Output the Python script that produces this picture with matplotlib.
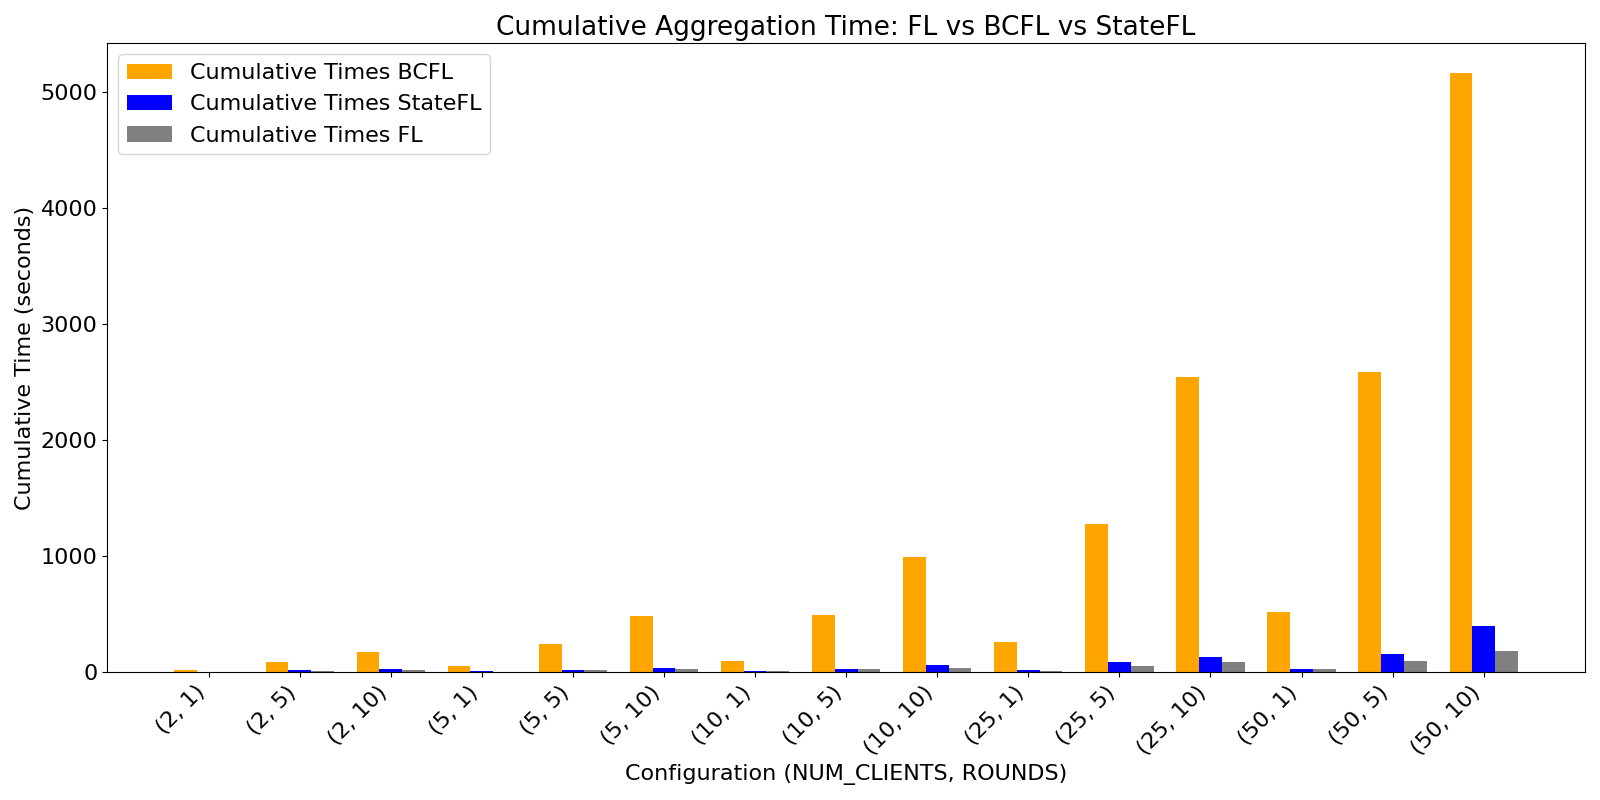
import numpy as np
import matplotlib
matplotlib.use("Agg")
import matplotlib.pyplot as plt

configs = ["(2, 1)", "(2, 5)", "(2, 10)", "(5, 1)", "(5, 5)", "(5, 10)",
           "(10, 1)", "(10, 5)", "(10, 10)", "(25, 1)", "(25, 5)", "(25, 10)",
           "(50, 1)", "(50, 5)", "(50, 10)"]
bcfl = [18, 91, 173, 55, 245, 482, 100, 491, 991, 264, 1273, 2545, 518, 2582, 5160]
statefl = [3, 15, 25, 8, 15, 35, 8, 25, 65, 18, 90, 135, 30, 155, 400]
fl = [1, 8, 15, 4, 15, 28, 6, 28, 40, 10, 50, 90, 28, 100, 180]

x = np.arange(len(configs))
w = 0.25

fig, ax = plt.subplots(figsize=(16, 8), dpi=100)
ax.bar(x - w, bcfl, w, color="orange", label="Cumulative Times BCFL")
ax.bar(x, statefl, w, color="blue", label="Cumulative Times StateFL")
ax.bar(x + w, fl, w, color="gray", label="Cumulative Times FL")

ax.set_xticks(x)
ax.set_xticklabels(configs, rotation=45, ha="right", fontsize=16)
ax.tick_params(axis="y", labelsize=16)
ax.set_xlabel("Configuration (NUM_CLIENTS, ROUNDS)", fontsize=16)
ax.set_ylabel("Cumulative Time (seconds)", fontsize=16)
ax.set_title("Cumulative Aggregation Time: FL vs BCFL vs StateFL", fontsize=19)
ax.legend(fontsize=16, loc="upper left")
plt.tight_layout()
plt.savefig("out.png")
